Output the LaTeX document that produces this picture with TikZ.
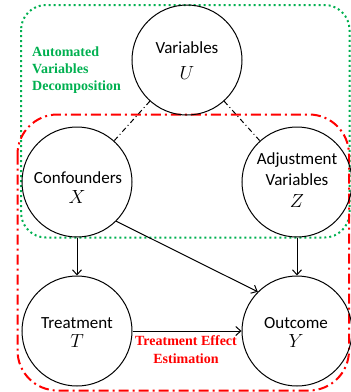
\RequirePackage{fix-cm}
\documentclass[tikz,border=0pt]{standalone}
\usepackage{fontspec}
\setmainfont{Carlito}
\newfontfamily\tnr{Liberation Serif}
\usetikzlibrary{arrows.meta}
\definecolor{grn}{HTML}{00B050}
\definecolor{rd}{HTML}{FF0000}
\begin{document}
\begin{tikzpicture}[x=1pt,y=-1pt,
  var/.style={circle,draw,line width=1pt,minimum size=110pt,inner sep=0pt},
  txt/.style={anchor=base,inner sep=0pt,font=\fontsize{17}{20}\selectfont},
  sym/.style={anchor=base,inner sep=0pt,font=\fontsize{19}{20}\selectfont},
  glbl/.style={anchor=base west,inner sep=0pt,text=grn,font=\tnr\bfseries\fontsize{14}{17}\selectfont},
  rlbl/.style={anchor=base,inner sep=0pt,text=rd,font=\tnr\bfseries\fontsize{14}{17}\selectfont},
  arr/.style={-{Straight Barb[length=5pt,width=9pt]},line width=1pt},
  dd/.style={line width=1pt,dash pattern=on 5pt off 3pt on 1pt off 3pt},
  gbox/.style={draw=grn,line width=2pt,dash pattern=on 2pt off 3pt,rounded corners=25pt},
  rbox/.style={draw=rd,line width=2pt,dash pattern=on 10pt off 4pt on 2pt off 4pt,rounded corners=40pt}]
\useasboundingbox (0,0) rectangle (351,392);
\draw[gbox] (21,5) rectangle (349.5,237.5);
\draw[rbox] (17.5,114.5) rectangle (349,390.5);
\node[var] (U) at (187,60) {};
\node[var] (X) at (77,182) {};
\node[var] (Z) at (297,182) {};
\node[var] (T) at (77,331) {};
\node[var] (Y) at (297,331) {};
\node[txt] (Ua) at (187,53) {Variables};
\node[sym] (Ub) at (187,79) {$U$};
\node[txt] (Xa) at (78,183) {Confounders};
\node[sym] (Xb) at (77,203) {$X$};
\node[txt] (Za) at (297,164) {Adjustment};
\node[txt] (Zb) at (297,185) {Variables};
\node[sym] (Zc) at (297,207) {$Z$};
\node[txt] (Ta) at (77,328) {Treatment};
\node[sym] (Tb) at (77,347) {$T$};
\node[txt] (Ya) at (296,328) {Outcome};
\node[sym] (Yb) at (296,347) {$Y$};
\node[glbl] (g1) at (32,56) {Automated};
\node[glbl] (g2) at (32,73) {Variables};
\node[glbl] (g3) at (32,90) {Decomposition};
\node[rlbl] (r1) at (186,345) {Treatment Effect};
\node[rlbl] (r2) at (186,363) {Estimation};
\draw[dd] (U) -- (X);
\draw[dd] (U) -- (Z);
\draw[arr] (X) -- (T);
\draw[arr] (Z) -- (Y);
\draw[arr] (X.-45) -- (Y.135);
\draw[arr] (T) -- (Y);
\end{tikzpicture}
\end{document}
